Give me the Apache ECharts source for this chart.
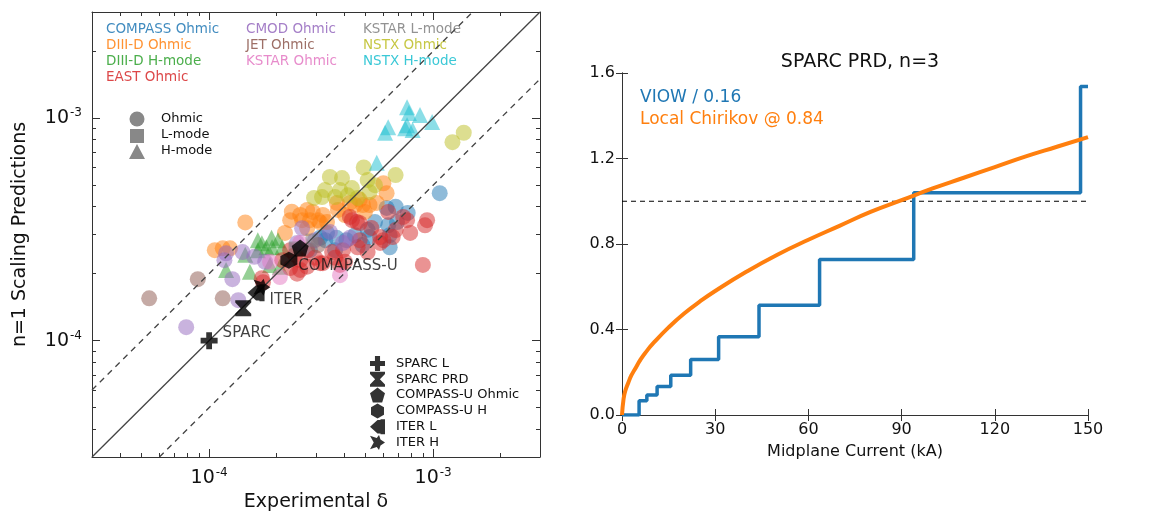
<!DOCTYPE html>
<html>
<head>
<meta charset="utf-8">
<script src="https://cdn.jsdelivr.net/npm/echarts@6/dist/echarts.min.js"></script>
<style>
  html, body { margin: 0; padding: 0; background: #fff; }
  #chart { width: 1157px; height: 517px; }
</style>
</head>
<body>
<div id="chart"></div>
<script>
// left panel: experimental delta vs n=1 scaling prediction
const compassOhmic = [[1.07e-3, 4.6e-4], [6.2e-4, 3.95e-4], [6.8e-4, 4.0e-4], [7.7e-4, 3.75e-4], [5.1e-4, 3.15e-4],
  [6.3e-4, 3.3e-4], [3.3e-4, 2.83e-4], [3.7e-4, 2.9e-4], [4.1e-4, 2.83e-4], [6.4e-4, 2.98e-4], [3.13e-4, 2.9e-4],
  [3.36e-4, 3.05e-4], [5.2e-4, 2.92e-4], [6.4e-4, 2.63e-4], [2.82e-4, 2.55e-4], [4.48e-4, 2.98e-4], [4.84e-4, 2.69e-4],
  [5.5e-4, 3.41e-4], [6.9e-4, 3.41e-4], [3.65e-4, 2.55e-4]]
const diiidOhmic = [[1.45e-4, 3.4e-4], [1.15e-4, 2.6e-4], [1.24e-4, 2.6e-4], [2.3e-4, 3.48e-4], [2.6e-4, 3.48e-4],
  [3.06e-4, 3.48e-4], [2.34e-4, 3.8e-4], [2.74e-4, 3.87e-4], [3.22e-4, 3.67e-4], [3.72e-4, 4.16e-4], [4.25e-4, 4.16e-4],
  [4.86e-4, 4.07e-4], [5.6e-4, 4.16e-4], [6.0e-4, 5.1e-4], [6.2e-4, 4.6e-4], [2.82e-4, 3.48e-4], [3.13e-4, 3.4e-4],
  [2.74e-4, 3.2e-4], [3.76e-4, 3.87e-4], [4.7e-4, 4.3e-4], [5.2e-4, 4.07e-4], [2.55e-4, 3.67e-4], [2.9e-4, 3.79e-4],
  [3.36e-4, 3.41e-4], [4.04e-4, 3.67e-4], [4.96e-4, 3.79e-4], [4.48e-4, 4.07e-4], [2.18e-4, 3.05e-4], [1.06e-4, 2.55e-4]]
const diiidHmode = [[1.9e-4, 2.9e-4], [2.03e-4, 2.83e-4], [1.8e-4, 2.63e-4], [1.91e-4, 2.63e-4], [2.12e-4, 2.63e-4],
  [1.19e-4, 2.08e-4], [1.52e-4, 2.04e-4], [1.87e-4, 2.19e-4], [2.07e-4, 2.15e-4], [1.72e-4, 2.74e-4], [1.65e-4, 2.55e-4],
  [1.65e-4, 2.83e-4], [1.45e-4, 2.43e-4]]
const eastOhmic = [[9.4e-4, 3.48e-4], [9.2e-4, 3.3e-4], [9.0e-4, 2.19e-4], [4.34e-4, 3.48e-4], [4.7e-4, 3.38e-4],
  [7.35e-4, 3.6e-4], [7.65e-4, 3.48e-4], [6.8e-4, 3.14e-4], [6.0e-4, 2.83e-4], [5.8e-4, 2.75e-4], [5.1e-4, 2.5e-4],
  [2.74e-4, 2.55e-4], [3.54e-4, 2.5e-4], [3.96e-4, 2.55e-4], [4.6e-4, 2.63e-4], [3.13e-4, 2.23e-4], [2.3e-4, 2.12e-4],
  [2.47e-4, 2.0e-4], [2.74e-4, 2.15e-4], [2.12e-4, 2.3e-4], [2.3e-4, 2.55e-4], [3.22e-4, 2.23e-4], [4.25e-4, 3.6e-4],
  [4.57e-4, 3.41e-4], [5.8e-4, 2.92e-4], [6.6e-4, 2.92e-4], [1.74e-4, 1.83e-4], [1.72e-4, 1.91e-4], [2.55e-4, 2.3e-4],
  [3.84e-4, 2.19e-4], [2.42e-4, 2.43e-4], [2.97e-4, 2.36e-4], [3.65e-4, 2.36e-4], [4.04e-4, 2.26e-4], [4.7e-4, 2.83e-4],
  [5.3e-4, 3.21e-4], [6.3e-4, 3.79e-4], [7.9e-4, 3.05e-4], [2.55e-4, 2.08e-4]]
const cmodOhmic = [[1.41e-4, 2.5e-4], [1.59e-4, 2.38e-4], [1.17e-4, 2.3e-4], [1.27e-4, 1.89e-4], [2.6e-4, 3.2e-4],
  [4.25e-4, 2.9e-4], [3.96e-4, 2.75e-4], [7.9e-5, 1.15e-4], [1.35e-4, 1.52e-4], [1.19e-4, 2.47e-4], [2.97e-4, 2.83e-4],
  [3.46e-4, 3.08e-4], [2.47e-4, 2.75e-4], [1.78e-4, 2.26e-4]]
const jetOhmic = [[8.9e-5, 1.89e-4], [5.4e-5, 1.55e-4], [1.15e-4, 1.55e-4], [3.06e-4, 2.69e-4]]
const kstarOhmic = [[3.84e-4, 1.97e-4], [2.07e-4, 1.93e-4], [1.87e-4, 2.26e-4], [2.55e-4, 2.75e-4]]
const kstarLmode = [[2.42e-4, 2.61e-4], [2.88e-4, 2.83e-4]]
const nstxOhmic = [[4.9e-4, 6.0e-4], [3.46e-4, 5.44e-4], [3.92e-4, 5.38e-4], [6.8e-4, 5.55e-4], [1.22e-3, 7.8e-4],
  [1.37e-3, 8.6e-4], [3.19e-4, 4.42e-4], [3.65e-4, 4.42e-4], [4.16e-4, 4.5e-4], [5.2e-4, 4.65e-4], [5.1e-4, 5.27e-4],
  [4.6e-4, 4.38e-4], [2.94e-4, 4.38e-4], [3.84e-4, 4.75e-4], [4.34e-4, 4.85e-4], [5.5e-4, 5.0e-4], [3.29e-4, 4.75e-4]]
const nstxHmode = [[7.8e-4, 1.055e-3], [8.74e-4, 1.033e-3], [6.3e-4, 9.1e-4], [6.1e-4, 8.6e-4], [7.65e-4, 9.3e-4],
  [7.5e-4, 9.0e-4], [8.1e-4, 8.84e-4], [9.9e-4, 9.6e-4], [5.6e-4, 6.3e-4], [7.65e-4, 1.12e-3]]

const sparcL = [1.0e-4, 1.0e-4]
const sparcPRD = [1.42e-4, 1.4e-4]
const compassUOhmic = [2.55e-4, 2.61e-4]
const compassUH = [2.27e-4, 2.3e-4]
const iterL = [1.62e-4, 1.64e-4]
const iterH = [1.72e-4, 1.74e-4]

const logMin = 3e-5
const logMax = 3e-3
const logMajor = [1e-4, 1e-3]
const logMinor = [4e-5, 5e-5, 6e-5, 7e-5, 8e-5, 9e-5, 2e-4, 3e-4, 4e-4, 5e-4, 6e-4, 7e-4, 8e-4, 9e-4, 2e-3]

// right panel: SPARC PRD, n=3
const viowCurrent = [0, 5.5, 8, 11.3, 15.7, 22.1, 31.1, 44.1, 63.6, 93.9, 147.6, 150]
const viowLevel = [0, 0.067, 0.094, 0.133, 0.186, 0.26, 0.366, 0.514, 0.728, 1.04, 1.537, 1.537]
const chirikovCurrent = [0, 0.5, 1, 2, 3, 4, 6, 8, 10, 15, 20, 25, 30, 40, 50, 60, 70, 80, 90, 100, 110, 120, 130, 140, 150]
const chirikovValue = [0, 0.075, 0.11, 0.15, 0.185, 0.21, 0.26, 0.3, 0.335, 0.41, 0.475, 0.53, 0.58, 0.67, 0.75,
  0.82, 0.885, 0.95, 1.005, 1.06, 1.11, 1.16, 1.21, 1.255, 1.3]
const currentTicks = [0, 30, 60, 90, 120, 150]
const ratioTicks = [0, 0.4, 0.8, 1.2, 1.6]

const FONT = 'DejaVu Sans'
const spine = '#333'

const groups = [
  { name: 'COMPASS Ohmic', color: '#1f77b4', symbol: 'circle', data: compassOhmic },
  { name: 'DIII-D Ohmic', color: '#ff7f0e', symbol: 'circle', data: diiidOhmic },
  { name: 'DIII-D H-mode', color: '#2ca02c', symbol: 'triangle', data: diiidHmode },
  { name: 'EAST Ohmic', color: '#d62728', symbol: 'circle', data: eastOhmic },
  { name: 'CMOD Ohmic', color: '#9467bd', symbol: 'circle', data: cmodOhmic },
  { name: 'JET Ohmic', color: '#8c564b', symbol: 'circle', data: jetOhmic },
  { name: 'KSTAR Ohmic', color: '#e377c2', symbol: 'circle', data: kstarOhmic },
  { name: 'KSTAR L-mode', color: '#7f7f7f', symbol: 'rect', data: kstarLmode },
  { name: 'NSTX Ohmic', color: '#bcbd22', symbol: 'circle', data: nstxOhmic },
  { name: 'NSTX H-mode', color: '#17becf', symbol: 'triangle', data: nstxHmode }
]

const specials = [
  { name: 'SPARC L', point: sparcL, size: 17, label: 'SPARC', offset: [0, -8],
    symbol: 'path://M3.3,0H6.7V3.3H10V6.7H6.7V10H3.3V6.7H0V3.3H3.3Z' },
  { name: 'SPARC PRD', point: sparcPRD, size: 16,
    symbol: 'path://M0,0H10V1.5L6.6,5L10,8.5V10H0V8.5L3.4,5L0,1.5Z' },
  { name: 'COMPASS-U Ohmic', point: compassUOhmic, size: 17,
    symbol: 'path://M5,0L10,3.8L8.1,10H1.9L0,3.8Z' },
  { name: 'COMPASS-U H', point: compassUH, size: 17, label: 'COMAPASS-U', offset: [-4, 6],
    symbol: 'path://M5,0L9.33,2.5V7.5L5,10L0.67,7.5V2.5Z' },
  { name: 'ITER L', point: iterL, size: 17, label: 'ITER', offset: [0, 7],
    symbol: 'path://M0,5L5,0.5H7V0H10V10H7V9.5H5Z' },
  { name: 'ITER H', point: iterH, size: 17,
    symbol: 'path://M0,0.5L4.5,2L6,0L7,3L10,5L7,7L6,10L4.5,8L0,9.5L2.5,5Z' }
]

function logLabel(v) {
  return '{b|10}{s|' + Math.round(Math.log10(v)) + '}'
}

function logAxis(pos, major, withLabel, extra) {
  return Object.assign({
    type: 'log',
    gridIndex: 0,
    position: pos,
    min: logMin,
    max: logMax,
    logBase: 10,
    axisLine: { show: major, lineStyle: { color: spine, width: 1 } },
    axisTick: {
      show: true,
      inside: true,
      length: major ? 8 : 4,
      lineStyle: { color: spine },
      customValues: major ? logMajor : logMinor
    },
    axisLabel: {
      show: withLabel,
      customValues: logMajor,
      formatter: logLabel,
      margin: 10,
      rich: {
        b: { fontSize: 19, fontFamily: FONT, color: '#111' },
        s: { fontSize: 12, fontFamily: FONT, color: '#111', padding: [0, 0, 10, 1] }
      }
    },
    splitLine: { show: false }
  }, extra || {})
}

function linAxis(type, pos, min, max, interval, withLabel, extra) {
  return Object.assign({
    type: 'value',
    gridIndex: 1,
    position: pos,
    min: min,
    max: max,
    interval: interval,
    axisLine: { show: true, lineStyle: { color: spine, width: 1 } },
    axisTick: { show: true, inside: true, length: 6, lineStyle: { color: spine } },
    axisLabel: {
      show: withLabel,
      fontSize: 16,
      fontFamily: FONT,
      color: '#111',
      margin: 7,
      formatter: type === 'y' ? v => v.toFixed(1) : v => String(v)
    },
    splitLine: { show: false }
  }, extra || {})
}

const chart = echarts.init(document.getElementById('chart'), null, { renderer: 'canvas' })

const series = []
groups.forEach(g => {
  series.push({
    name: g.name,
    type: 'scatter',
    xAxisIndex: 0,
    yAxisIndex: 0,
    symbol: g.symbol,
    symbolSize: g.symbol === 'rect' ? 13 : 16,
    itemStyle: { color: g.color, opacity: 0.5 },
    data: g.data,
    z: 2
  })
})

// reference lines y = x, y = 2x, y = x/2
series.push({
  type: 'line', xAxisIndex: 0, yAxisIndex: 0, symbol: 'none', silent: true, z: 3,
  lineStyle: { color: '#444', width: 1.3 },
  data: [[logMin, logMin], [logMax, logMax]]
})
series.push({
  type: 'line', xAxisIndex: 0, yAxisIndex: 0, symbol: 'none', silent: true, z: 3,
  lineStyle: { color: '#444', width: 1.3, type: [6, 5] },
  data: [[logMin, 2 * logMin], [logMax / 2, logMax]]
})
series.push({
  type: 'line', xAxisIndex: 0, yAxisIndex: 0, symbol: 'none', silent: true, z: 3,
  lineStyle: { color: '#444', width: 1.3, type: [6, 5] },
  data: [[2 * logMin, logMin], [logMax, logMax / 2]]
})

specials.forEach(s => {
  series.push({
    name: s.name,
    type: 'scatter',
    xAxisIndex: 0,
    yAxisIndex: 0,
    symbol: s.symbol,
    symbolSize: s.size,
    itemStyle: { color: '#000' },
    z: 5,
    label: {
      show: !!s.label,
      position: 'right',
      offset: s.offset || [0, 0],
      formatter: s.label || '',
      fontSize: 15,
      fontFamily: FONT,
      color: '#111'
    },
    data: [s.point]
  })
})

// right panel series
series.push({
  name: 'VIOW / 0.16',
  type: 'line',
  xAxisIndex: 4,
  yAxisIndex: 4,
  step: 'end',
  symbol: 'none',
  lineStyle: { color: '#1f77b4', width: 3.5 },
  data: viowCurrent.map((x, i) => [x, viowLevel[i]]),
  z: 3
})
series.push({
  name: 'Local Chirikov @ 0.84',
  type: 'line',
  xAxisIndex: 4,
  yAxisIndex: 4,
  symbol: 'none',
  smooth: true,
  lineStyle: { color: '#ff7f0e', width: 4 },
  data: chirikovCurrent.map((x, i) => [x, chirikovValue[i]]),
  z: 4
})
series.push({
  type: 'line',
  xAxisIndex: 4,
  yAxisIndex: 4,
  symbol: 'none',
  silent: true,
  lineStyle: { color: '#000', width: 1, type: [5, 4] },
  data: [[currentTicks[0], 1], [currentTicks[currentTicks.length - 1], 1]],
  z: 2
})

const legendTexts = [
  ['COMPASS Ohmic', 106, 30], ['DIII-D Ohmic', 106, 46], ['DIII-D H-mode', 106, 62], ['EAST Ohmic', 106, 78],
  ['CMOD Ohmic', 246, 30], ['JET Ohmic', 246, 46], ['KSTAR Ohmic', 246, 62],
  ['KSTAR L-mode', 363, 30], ['NSTX Ohmic', 363, 46], ['NSTX H-mode', 363, 62]
]
const graphics = legendTexts.map(t => ({
  type: 'text',
  left: t[1],
  top: t[2] - 8,
  silent: true,
  style: {
    text: t[0],
    fill: groups.find(g => g.name === t[0]).color,
    opacity: 0.85,
    font: '13.5px "DejaVu Sans"'
  }
}))

// shape legend (Ohmic / L-mode / H-mode)
graphics.push(
  { type: 'circle', shape: { cx: 137, cy: 119, r: 7.5 }, style: { fill: '#888' }, silent: true },
  { type: 'rect', shape: { x: 130, y: 129, width: 14, height: 14 }, style: { fill: '#888' }, silent: true },
  { type: 'polygon', shape: { points: [[137, 144], [145, 159], [129, 159]] }, style: { fill: '#888' }, silent: true },
  { type: 'text', left: 161, top: 112, silent: true, style: { text: 'Ohmic', fill: '#111', font: '13px "DejaVu Sans"' } },
  { type: 'text', left: 161, top: 128, silent: true, style: { text: 'L-mode', fill: '#111', font: '13px "DejaVu Sans"' } },
  { type: 'text', left: 161, top: 144, silent: true, style: { text: 'H-mode', fill: '#111', font: '13px "DejaVu Sans"' } }
)

// right panel legend text
graphics.push(
  { type: 'text', left: 640, top: 89, silent: true, style: { text: 'VIOW / 0.16', fill: '#1f77b4', font: '17px "DejaVu Sans"' } },
  { type: 'text', left: 640, top: 111, silent: true, style: { text: 'Local Chirikov @ 0.84', fill: '#ff7f0e', font: '17px "DejaVu Sans"' } }
)

chart.setOption({
  animation: false,
  backgroundColor: '#fff',
  title: {
    text: 'SPARC PRD, n=3',
    left: 855,
    top: 48,
    textAlign: 'center',
    textStyle: { fontSize: 19, fontWeight: 'normal', fontFamily: FONT, color: '#111' }
  },
  grid: [
    { left: 92, top: 12, width: 448, height: 445 },
    { left: 622, top: 73, width: 466, height: 342 }
  ],
  legend: {
    data: specials.map(s => s.name),
    orient: 'vertical',
    left: 365,
    top: 351,
    itemWidth: 15,
    itemHeight: 15,
    itemGap: 0.8,
    selectedMode: false,
    textStyle: { fontSize: 13, fontFamily: FONT, color: '#111', padding: [0, 0, 0, 6] }
  },
  xAxis: [
    logAxis('bottom', true, true, {
      name: 'Experimental δ',
      nameLocation: 'middle',
      nameGap: 33,
      nameTextStyle: { fontSize: 19, fontFamily: FONT, color: '#111' }
    }),
    logAxis('bottom', false, false),
    logAxis('top', true, false),
    logAxis('top', false, false),
    linAxis('x', 'bottom', 0, 150, 30, true, {
      name: 'Midplane Current (kA)',
      nameLocation: 'middle',
      nameGap: 29,
      nameTextStyle: { fontSize: 16, fontFamily: FONT, color: '#111' }
    }),
    linAxis('x', 'top', 0, 150, 30, false)
  ],
  yAxis: [
    logAxis('left', true, true, {
      name: 'n=1 Scaling Predictions',
      nameLocation: 'middle',
      nameGap: 62,
      nameTextStyle: { fontSize: 19, fontFamily: FONT, color: '#111' }
    }),
    logAxis('left', false, false),
    logAxis('right', true, false),
    logAxis('right', false, false),
    linAxis('y', 'left', 0, 1.6, 0.4, true),
    linAxis('y', 'right', 0, 1.6, 0.4, false)
  ],
  graphic: graphics,
  series: series
})
</script>
</body>
</html>
